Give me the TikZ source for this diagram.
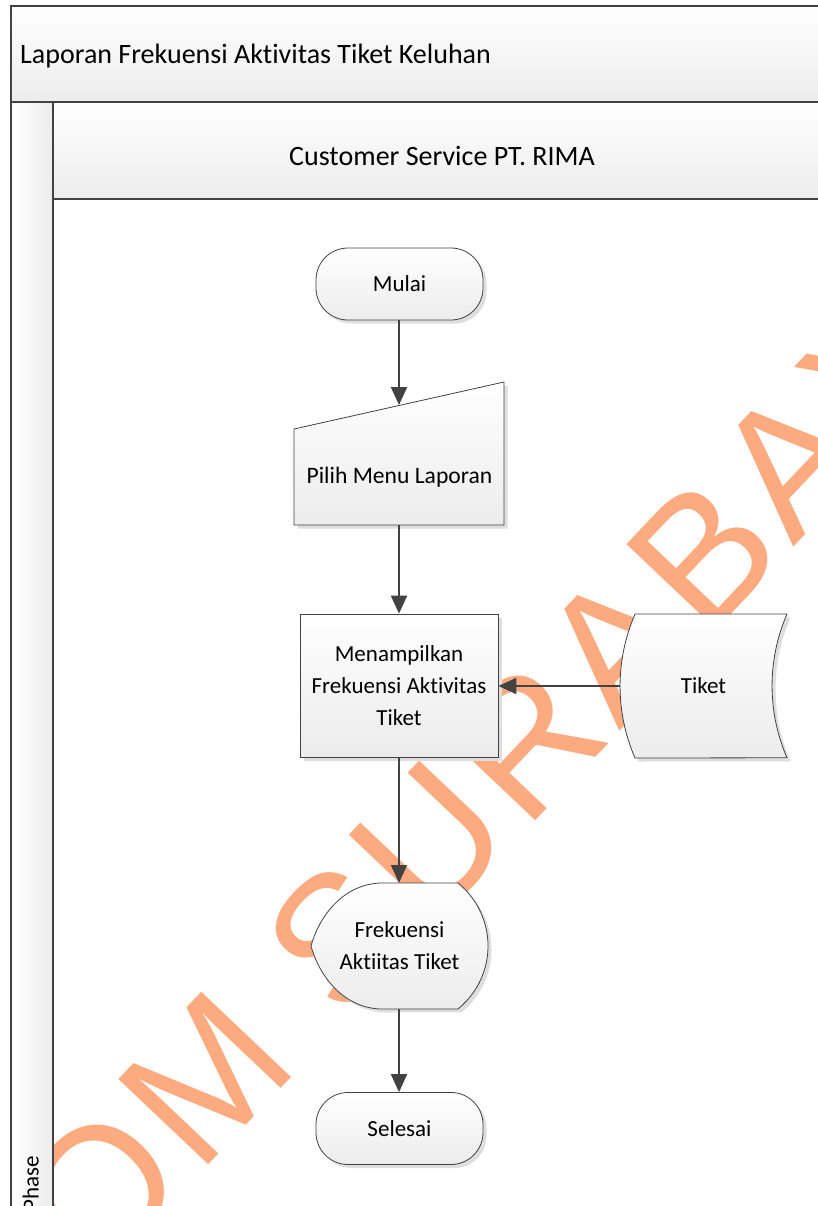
\documentclass[tikz,border=0pt]{standalone}
\usepackage{fontspec}
\setmainfont{Carlito}[Ligatures=NoCommon]
\newfontfamily\wmfont{Liberation Sans}
\usetikzlibrary{arrows.meta,shadows}

\definecolor{edge}{HTML}{424242}
\definecolor{paleg}{HTML}{ECECEC}
\definecolor{wmcol}{HTML}{FCAA80}

\tikzset{
  frameline/.style={draw=edge, line width=2.2pt},
  band/.style={frameline, top color=white, bottom color=paleg},
  sideband/.style={frameline, left color=white, right color=paleg},
  boxstyle/.style={draw=edge, line width=0.8pt, top color=white, bottom color=paleg,
    drop shadow={shadow xshift=3.5pt, shadow yshift=-3.5pt, fill=black!13, opacity=1}},
  txt/.style={font=\fontsize{23}{32}\selectfont, align=center, text=black, inner sep=0pt},
  term/.style={boxstyle, txt, rounded corners=32pt, minimum width=167pt, minimum height=72pt},
  proc/.style={boxstyle, txt, minimum width=198pt, minimum height=143pt},
  flow/.style={draw=edge, line width=2pt, -{Triangle[length=18pt,width=16pt]}},
  wmletter/.style={font=\wmfont\fontsize{180}{180}\selectfont, text=wmcol, rotate=46.5, inner sep=0pt},
}

\begin{document}
\begin{tikzpicture}[x=1pt, y=1pt]
\useasboundingbox (0,0) rectangle (818,-1206);
\clip (0,0) rectangle (818,-1206);
\fill[white] (0,0) rectangle (818,-1206);

% watermark lettering, set along a rising diagonal
\foreach \ch/\t [count=\i] in {S/-465, T/-312, I/-227, K/-137, O/0, M/153, S/348, U/480,
    R/618, A/750, B/876, A/1003, Y/1130, A/1256}
  \node[wmletter] (wm\i) at ({100+0.688*\t},{-1190+0.726*\t}) {\ch};

% swimlane frame
\path[band] (11,-6) rectangle (840,-102);
\node[inner sep=0pt, anchor=base west, font=\fontsize{28}{34}\selectfont] (title) at (20,-64)
  {Laporan Frekuensi Aktivitas Tiket Keluhan};
\path[sideband] (11,-102) rectangle (53,-1240);
\node[inner sep=0pt, anchor=base west, rotate=90, font=\fontsize{23}{28}\selectfont] (phase)
  at (38.5,-1212) {Phase};
\path[frameline] (53,-199) rectangle (840,-1240);
\path[band] (53,-102) rectangle (840,-199);
\node[inner sep=0pt, anchor=base, font=\fontsize{28}{34}\selectfont] (lane) at (442,-166)
  {Customer Service PT. RIMA};

% start
\node[term] (mulai) at (399.5,-284) {Mulai};

% manual input
\path[boxstyle] (294,-429) -- (504,-382) -- (504,-525) -- (294,-525) -- cycle;
\node[txt, font=\fontsize{23.6}{32}\selectfont] (pilih) at (399.5,-477) {Pilih Menu Laporan};
\coordinate (pilihtop) at (399,-405);
\coordinate (pilihbot) at (399,-525);

% process
\node[proc] (tampil) at (399,-685.5) {Menampilkan\\Frekuensi Aktivitas\\Tiket};

% stored data
\path[boxstyle] (635,-614) -- (787,-614)
  arc[start angle=156.5, end angle=203.5, radius=180.3pt] -- (635,-758)
  arc[start angle=203.5, end angle=156.5, radius=180.3pt] -- cycle;
\node[txt] (tiket) at (703.5,-686) {Tiket};
\coordinate (tiketleft) at (620,-686);

% display
\path[boxstyle] (380,-883) -- (458,-883)
  arc[start angle=51, end angle=-51, radius=81pt] -- (380,-1009)
  .. controls (340,-1007) and (318,-972) .. (311,-946)
  .. controls (318,-920) and (340,-885) .. (380,-883) -- cycle;
\node[txt] (freq) at (399.5,-946) {Frekuensi\\Aktiitas Tiket};
\coordinate (freqtop) at (399,-883);
\coordinate (freqbot) at (399,-1009);

% end
\node[term] (selesai) at (399.5,-1128.5) {Selesai};

% connectors
\draw[flow] (mulai.south -| pilihtop) -- (pilihtop);
\draw[flow] (pilihbot) -- (tampil.north -| pilihbot);
\draw[flow] (tiketleft) -- (tampil.east |- tiketleft);
\draw[flow] (tampil.south -| freqtop) -- (freqtop);
\draw[flow] (freqbot) -- (selesai.north -| freqbot);
\end{tikzpicture}
\end{document}
